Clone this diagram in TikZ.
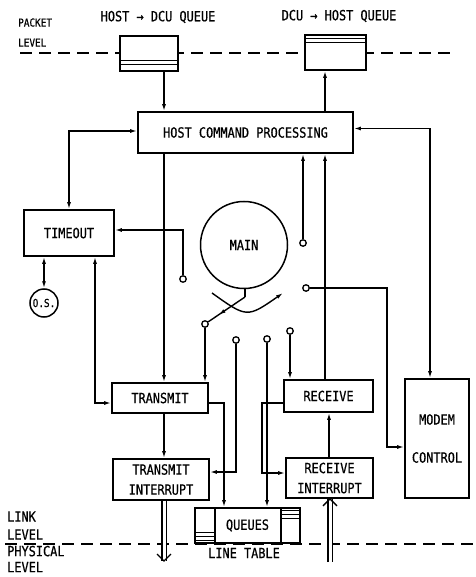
\documentclass[tikz,border=0pt]{standalone}
\usepackage{fontspec}
\setmainfont{DejaVu Sans Mono}[FakeStretch=0.85,FakeBold=0.6]
\usetikzlibrary{arrows.meta,decorations.markings}
\tikzset{
 conn/.style={line width=1.4pt},
 arr/.style={conn,-{Latex[length=7pt,width=4pt]}},
 darr/.style={conn,{Latex[length=7pt,width=4pt]}-{Latex[length=7pt,width=4pt]}},
 midarr/.style={conn,postaction={decorate},decoration={markings,mark=at position 0.72 with {\arrow{Latex[length=7pt,width=4pt]}}}},
 box/.style={draw,line width=1.7pt,fill=white,inner sep=0pt,align=center,font=\fontsize{14}{20}\selectfont},
 circnode/.style={circle,draw,line width=1.5pt,fill=white,inner sep=0pt},
 contact/.style={circle,draw,line width=1.3pt,fill=white,minimum size=6.5pt,inner sep=0pt},
 lbl/.style={inner sep=0pt,align=left,font=\fontsize{14}{18}\selectfont},
 dsh/.style={line width=1.5pt,dash pattern=on 12pt off 7pt},
 dbl/.style={line width=1.2pt,double,double distance=3pt},
 stripe/.style={line width=1.1pt},
}
\begin{document}
\begin{tikzpicture}[x=1pt,y=-1pt]
\fill[white] (0,0) rectangle (475,577);
\useasboundingbox (0,0) rectangle (475,577);

% level lines
\coordinate (pl1) at (20,53);
\coordinate (pl2) at (456,53);
\coordinate (ll1) at (5,544);
\coordinate (ll2) at (475,544);
\draw[dsh] (pl1) -- (pl2);
\draw[dsh] (ll1) -- (ll2);

% columns
\coordinate (cA) at (164,0);
\coordinate (cB) at (325,0);
\coordinate (cR) at (430,0);
\coordinate (cT) at (95,0);
\coordinate (cM) at (387,0);
\coordinate (cQ) at (224,0);
\coordinate (cK) at (262,0);
\coordinate (cN) at (329,0);

% labels
\node[lbl,anchor=west,font=\fontsize{11}{20}\selectfont] (packet) at (18,32.5) {PACKET\\LEVEL};
\node[lbl] (h2d) at (158,17) {HOST → DCU QUEUE};
\node[lbl] (d2h) at (339,16) {DCU → HOST QUEUE};
\node[lbl,anchor=west] (link) at (7,525.5) {LINK\\LEVEL};
\node[lbl,anchor=west,font=\fontsize{14}{16}\selectfont] (phys) at (7,559) {PHYSICAL\\LEVEL};

% boxes
\node[box,minimum width=58pt,minimum height=35pt] (q1) at (149,53.5) {};
\node[box,minimum width=61pt,minimum height=35pt] (q2) at (335.5,52.5) {};
\draw[stripe] ([yshift=11pt]q1.south west) -- ([yshift=11pt]q1.south east);
\draw[stripe] ([yshift=7pt]q1.south west) -- ([yshift=7pt]q1.south east);
\draw[stripe] ([yshift=-4pt]q2.north west) -- ([yshift=-4pt]q2.north east);
\draw[stripe] ([yshift=-8pt]q2.north west) -- ([yshift=-8pt]q2.north east);

\node[box,minimum width=215pt,minimum height=41pt] (hcp) at (245.5,132.5) {HOST COMMAND PROCESSING};
\node[box,minimum width=90pt,minimum height=46pt] (timeout) at (69,233) {TIMEOUT};
\node[circnode,minimum size=28pt,font=\fontsize{11}{12}\selectfont] (os) at (44,303) {O.S.};
\node[circnode,minimum size=87pt] (main) at (244,245) {\fontsize{14}{16}\selectfont MAIN};
\node[box,minimum width=96pt,minimum height=30pt] (transmit) at (160,398) {TRANSMIT};
\node[box,minimum width=96pt,minimum height=41pt] (ti) at (161,479.5) {TRANSMIT\\INTERRUPT};
\node[box,minimum width=89pt,minimum height=32pt] (receive) at (328.5,396) {RECEIVE};
\node[box,minimum width=87pt,minimum height=40pt] (ri) at (329.5,478) {RECEIVE\\INTERRUPT};
\node[box,minimum width=64pt,minimum height=119pt,font=\fontsize{14}{20}\selectfont] (modem) at (437,438.5) {MODEM\\[18pt]CONTROL};
\node[box,minimum width=105pt,minimum height=35pt] (queues) at (247.5,525.5) {\raisebox{-4.5pt}{QUEUES}};
\draw[stripe,line width=1.5pt] ([xshift=21pt]queues.north west) -- ([xshift=21pt]queues.south west);
\draw[stripe,line width=1.5pt] ([xshift=-20pt]queues.north east) -- ([xshift=-20pt]queues.south east);
\foreach \s in {11,7.5,3.5}{
  \draw[stripe] ([yshift=\s pt]queues.south west) -- ([xshift=21pt,yshift=\s pt]queues.south west);
  \draw[stripe] ([yshift=-\s pt]queues.north east) -- ([xshift=-20pt,yshift=-\s pt]queues.north east);
}
\node[lbl] (linetable) at (244,553) {LINE TABLE};

% contacts
\node[contact] (c1) at (303,243) {};
\node[contact] (c2) at (183,279) {};
\node[contact] (c3) at (306,288) {};
\node[contact] (c4) at (205,324) {};
\node[contact] (c5) at (236,340) {};
\node[contact] (c6) at (267,339) {};
\node[contact] (c7) at (290,331) {};

% connectors
\draw[arr] (q1.south -| cA) -- (hcp.north -| cA);
\draw[arr] (hcp.north -| cB) -- (q2.south -| cB);
\draw[darr] ([yshift=1.5pt]hcp.west) -| (timeout.north);
\draw[darr] ([yshift=4pt]hcp.east) -| (modem.north -| cR);
\draw[arr] (hcp.south -| cA) -- (transmit.north -| cA);
\draw[arr] (c1) -- (hcp.south -| c1);
\draw[arr] (receive.north -| cB) -- (hcp.south -| cB);
\draw[arr] (c2) |- ([yshift=3pt]timeout.east);
\draw[darr] (timeout.south -| os) -- (os.north);
\draw[darr] (timeout.south -| cT) |- ([yshift=-5pt]transmit.west);
\draw[arr] (c3) -- (c3 -| cM) |- ([yshift=-8.5pt]modem.west);
\draw[arr] (c4) -- (c4 |- transmit.north);
\draw[arr] (c5) |- ([yshift=7.5pt]ti.east);
\draw[arr] ([yshift=-5pt]transmit.east) -| (queues.north -| cQ);
\draw[arr] (c6) -- (c6 |- queues.north);
\draw[arr] (c7) -- (c7 |- receive.north);
\coordinate (rw) at ([yshift=-7pt]receive.west);
\draw[arr] (rw) -- (rw -| cK) |- ([yshift=5pt]ri.west);
\draw[arr] (ri.north -| cN) -- (receive.south -| cN);
\draw[arr] (transmit.south -| cA) -- (ti.north -| cA);

% physical level arrows
\coordinate (tx) at (164,561);
\coordinate (rx) at (330,562);
\draw[dbl] (ti.south -| tx) -- (tx);
\draw[line width=1.3pt] (tx) ++(-7,-7) -- (tx) -- ++(7,-7);
\coordinate (rtip) at (ri.south -| rx);
\draw[dbl] (rx) -- (rtip);
\draw[line width=1.3pt] (rtip) ++(-7,7) -- (rtip) -- ++(7,7);

% switch
\coordinate (sw) at (245,297);
\draw[conn] (main.south -| sw) -- (sw);
\draw[midarr] (sw) -- (c4);
\coordinate (a1) at (212,293);
\coordinate (a2) at (283,293);
\draw[arr] (a1) .. controls (247,318) .. (a2);
\end{tikzpicture}
\end{document}
